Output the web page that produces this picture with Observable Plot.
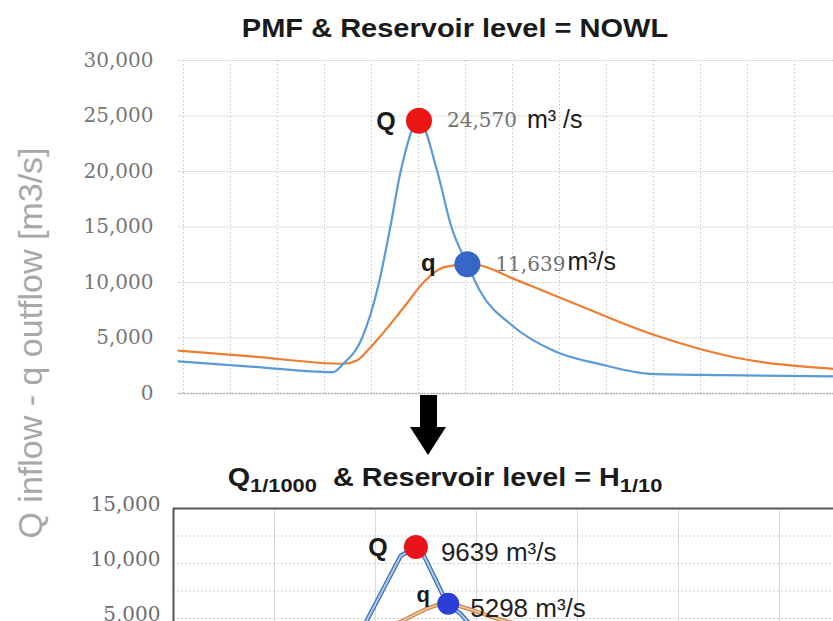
<!DOCTYPE html>
<html>
<head>
<meta charset="utf-8">
<script src="https://cdn.jsdelivr.net/npm/d3@7"></script>
<script src="https://cdn.jsdelivr.net/npm/@observablehq/plot@0.6"></script>
<style>
  html, body { margin: 0; padding: 0; background: #fff; }
  body { width: 833px; height: 621px; overflow: hidden; position: relative; font-family: "Liberation Sans", Arial, sans-serif; }
  #top, #bot { position: absolute; left: 0; }
  #top { top: 0; }
  #bot { top: 490px; }
  .title { position: absolute; font-weight: bold; color: #1a1a1a; white-space: nowrap; font-size: 25px; }
  .title sub { font-size: 19px; vertical-align: -6px; }
  #ylabel { position: absolute; left: 30px; top: 343px; transform: translate(-50%, -50%) rotate(-90deg);
            white-space: nowrap; font-size: 34px; color: #a8a8a8; font-family: "Liberation Sans", sans-serif; }
  #arrow-shaft { position: absolute; left: 420px; top: 395px; width: 17px; height: 33px; background: #000; }
  #arrow-head { position: absolute; left: 410px; top: 427px; width: 0; height: 0;
                border-left: 18px solid transparent; border-right: 18px solid transparent; border-top: 28px solid #000; }
</style>
</head>
<body>
<div id="top"></div>
<div id="bot"></div>
<div class="title" id="t1" style="left:455px; top:28px; transform: translate(-50%,-50%) scaleX(1.16);">PMF &amp; Reservoir level = NOWL</div>
<div class="title" id="t2" style="left:445px; top:480px; transform: translate(-50%,-50%) scaleX(1.15);">Q<sub>1/1000</sub>&nbsp; &amp; Reservoir level = H<sub>1/10</sub></div>
<div id="ylabel">Q inflow - q outflow [m3/s]</div>
<div id="arrow-shaft"></div>
<div id="arrow-head"></div>
<script>
// ---------- Top chart: PMF & Reservoir level = NOWL ----------
const topYTicks = [0, 5000, 10000, 15000, 20000, 25000, 30000];
const topGridT = [0, 1, 2, 3, 4, 5, 6, 7, 8, 9, 10, 11, 12, 13];

const topInflowT = [-0.106, 1.5, 3.18, 3.40, 3.80, 4.16, 4.40, 4.62, 5.01, 5.40, 5.70, 6.04, 6.30, 7.0, 7.9, 8.9, 9.94, 11.5, 13.83];
const topInflowV = [2900, 2400, 1920, 2680, 5000, 10000, 15000, 20000, 24570, 20000, 15000, 11639, 9300, 6100, 3800, 2600, 1770, 1650, 1550];

const topOutflowT = [-0.106, 1.5, 3.40, 3.69, 3.98, 4.69, 5.11, 5.54, 6.04, 6.32, 7.0, 8.16, 9.94, 11.71, 13.83];
const topOutflowV = [3870, 3320, 2680, 2970, 4170, 7770, 10030, 11380, 11639, 11530, 10370, 8380, 5380, 3270, 2220];

const topPeakNames = ["Q", "q"];
const topPeakT = [5.01, 6.04];
const topPeakV = [24570, 11639];
const topPeakLabels = ["24,570", "11,639"];
const topPeakUnits = ["m³ /s", "m³/s"];
const topPeakColors = ["#ee1515", "#3566c8"];

// ---------- Bottom chart: Q1/1000 & Reservoir level = H1/10 ----------
const botYTicks = [5000, 10000, 15000];
const botGridY = [5000, 7500, 10000, 12500];
const botGridT = [1, 2, 3, 4, 5, 6];

const botInflowT = [0, 1.5, 1.85, 1.95, 2.25, 2.40, 2.48, 2.71, 2.84, 3.0, 3.5, 4.5, 6.53];
const botInflowV = [2000, 2200, 3700, 5450, 10700, 11500, 10700, 6340, 5450, 3800, 2500, 2000, 1800];

const botOutflowT = [0, 1.8, 2.27, 2.6, 2.72, 2.84, 3.2, 4.0, 6.53];
const botOutflowV = [2500, 3000, 4820, 6180, 6340, 6090, 5000, 3500, 2500];

const botPeakNames = ["Q", "q"];
const botPeakT = [2.40, 2.72];
const botPeakV = [11500, 6340];
const botPeakLabels = ["9639 m³/s", "5298 m³/s"];
const botPeakColors = ["#e8141b", "#2a3fd8"];

const zip = (ts, vs) => ts.map((t, i) => ({t, v: vs[i]}));
const fmt = d3.format(",");
const BLUE = "#5b9bd5", ORANGE = "#ed7d31";

const topPeaks = topPeakT.map((t, i) => ({t, v: topPeakV[i], name: topPeakNames[i], label: topPeakLabels[i], unit: topPeakUnits[i], color: topPeakColors[i]}));
const botPeaks = botPeakT.map((t, i) => ({t, v: botPeakV[i], name: botPeakNames[i], label: botPeakLabels[i], color: botPeakColors[i]}));

const topPlot = Plot.plot({
  width: 833, height: 400,
  marginLeft: 178, marginRight: 0, marginTop: 60, marginBottom: 7,
  x: {domain: [-5 / 47, 650 / 47], axis: null},
  y: {domain: [0, 30000], axis: null},
  style: {background: "transparent", fontFamily: "DejaVu Serif", fontSize: "20px", color: "#777", overflow: "visible"},
  marks: [
    Plot.gridX(topGridT, {stroke: "#c4c4c4", strokeOpacity: 1, strokeDasharray: "1.5,2.5"}),
    Plot.gridY(topYTicks, {stroke: "#d6d6d6", strokeOpacity: 1, strokeDasharray: "3,1"}),
    Plot.ruleY([0], {stroke: "#b5b5b5", strokeDasharray: "2,1", strokeWidth: 1.5}),
    Plot.axisY({ticks: topYTicks, tickFormat: fmt, tickSize: 0, tickPadding: 25, label: null, fontSize: 20, fontFamily: "DejaVu Serif", fill: "#777"}),
    Plot.line(zip(topOutflowT, topOutflowV), {x: "t", y: "v", stroke: ORANGE, strokeWidth: 2.2, curve: "monotone-x"}),
    Plot.line(zip(topInflowT, topInflowV), {x: "t", y: "v", stroke: BLUE, strokeWidth: 2.2, curve: "monotone-x"}),
    Plot.dot(topPeaks, {x: "t", y: "v", r: 13, fill: "color", stroke: null}),
    // "Q" / "q" names
    Plot.text(topPeaks.slice(0, 1), {x: "t", y: "v", text: "name", dx: -33, dy: 1, fontFamily: "Liberation Sans", fontWeight: "bold", fontSize: 25, fill: "#1a1a1a"}),
    Plot.text(topPeaks.slice(1), {x: "t", y: "v", text: "name", dx: -39, dy: -1, fontFamily: "Liberation Sans", fontWeight: "bold", fontSize: 24, fill: "#1a1a1a"}),
    // numeric values (serif grey)
    Plot.text(topPeaks, {x: "t", y: "v", text: "label", dx: 28, dy: 0, textAnchor: "start", fontFamily: "DejaVu Serif", fontSize: 20, fill: "#707070"}),
    // units
    Plot.text(topPeaks.slice(0, 1), {x: "t", y: "v", text: "unit", dx: 108, dy: -1, textAnchor: "start", fontFamily: "Liberation Sans", fontSize: 25, fill: "#1a1a1a"}),
    Plot.text(topPeaks.slice(1), {x: "t", y: "v", text: "unit", dx: 100, dy: -2, textAnchor: "start", fontFamily: "Liberation Sans", fontSize: 25, fill: "#1a1a1a"})
  ]
});
document.getElementById("top").appendChild(topPlot);

const botPlot = Plot.plot({
  width: 833, height: 200,
  marginLeft: 173, marginRight: 0, marginTop: 18, marginBottom: 17,
  x: {domain: [0, 660 / 101], axis: null},
  y: {domain: [0, 15000], axis: null},
  style: {background: "transparent", fontFamily: "DejaVu Serif", fontSize: "20px", color: "#6e6e6e", overflow: "visible"},
  marks: [
    Plot.gridX(botGridT, {stroke: "#dadada", strokeOpacity: 1}),
    Plot.gridY(botGridY, {stroke: "#cfcfcf", strokeOpacity: 1, strokeDasharray: "2,2"}),
    Plot.ruleY([15000], {stroke: "#555", strokeWidth: 2}),
    Plot.ruleX([0], {stroke: "#555", strokeWidth: 2}),
    Plot.axisY({ticks: botYTicks, tickFormat: fmt, tickSize: 0, tickPadding: 13, dy: -4, label: null, fontSize: 20, fontFamily: "DejaVu Serif", fill: "#6e6e6e"}),
    Plot.line(zip(botOutflowT, botOutflowV), {x: "t", y: "v", stroke: "#c8854a", strokeWidth: 4, curve: "monotone-x"}),
    Plot.line(zip(botOutflowT, botOutflowV), {x: "t", y: "v", stroke: "#f3c9a0", strokeWidth: 1.6, curve: "monotone-x"}),
    Plot.line(zip(botInflowT, botInflowV), {x: "t", y: "v", stroke: "#3f6fae", strokeWidth: 4.5, curve: "linear"}),
    Plot.line(zip(botInflowT, botInflowV), {x: "t", y: "v", stroke: "#a9c9ea", strokeWidth: 2, curve: "linear"}),
    Plot.dot(botPeaks.slice(0, 1), {x: "t", y: "v", r: 12, fill: "color", stroke: null}),
    Plot.dot(botPeaks.slice(1), {x: "t", y: "v", r: 11, fill: "color", stroke: null}),
    Plot.text(botPeaks.slice(0, 1), {x: "t", y: "v", text: "name", dx: -38, dy: 1, fontFamily: "Liberation Sans", fontWeight: "bold", fontSize: 25, fill: "#1a1a1a"}),
    Plot.text(botPeaks.slice(1), {x: "t", y: "v", text: "name", dx: -25, dy: -9, fontFamily: "Liberation Sans", fontWeight: "bold", fontSize: 22, fill: "#1a1a1a"}),
    Plot.text(botPeaks.slice(0, 1), {x: "t", y: "v", text: "label", dx: 25, dy: 6, textAnchor: "start", fontFamily: "Liberation Sans", fontSize: 26, fill: "#222"}),
    Plot.text(botPeaks.slice(1), {x: "t", y: "v", text: "label", dx: 22, dy: 5, textAnchor: "start", fontFamily: "Liberation Sans", fontSize: 26, fill: "#222"})
  ]
});
document.getElementById("bot").appendChild(botPlot);
</script>
</body>
</html>
